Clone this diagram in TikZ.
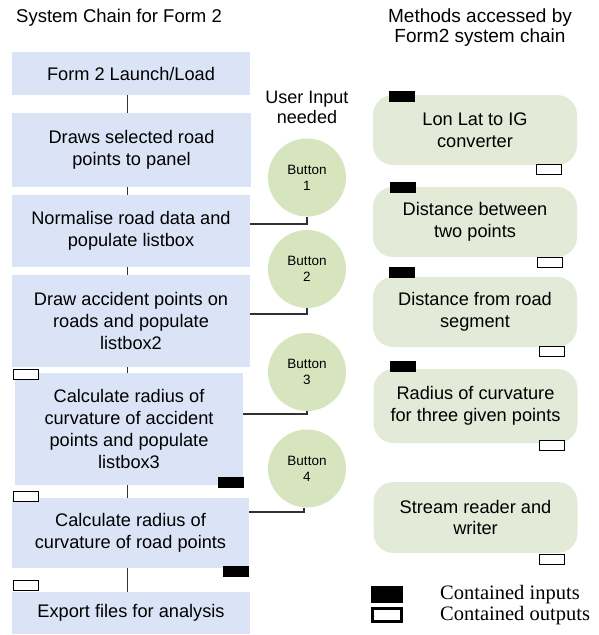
\documentclass[tikz,border=0pt]{standalone}
\usepackage{fontspec}
\setmainfont{Liberation Sans}
\newfontfamily\legendfont{Liberation Serif}
\definecolor{boxblue}{RGB}{219,228,247}
\definecolor{btngreen}{RGB}{215,229,190}
\definecolor{methgreen}{RGB}{227,234,216}
\definecolor{linegray}{RGB}{50,50,50}
\begin{document}
\begin{tikzpicture}[x=1pt,y=-1pt,
  chainbox/.style={fill=boxblue,draw=none,align=center,inner sep=0pt,
    font=\fontsize{18.2}{21.7}\selectfont},
  btn/.style={circle,fill=btngreen,draw=none,minimum size=78pt,inner sep=0pt,align=center,
    font=\fontsize{13.5}{16}\selectfont},
  methbox/.style={fill=methgreen,draw=none,rounded corners=20pt,align=center,inner sep=0pt,
    minimum width=204pt,font=\fontsize{18.2}{21.7}\selectfont},
  inbox/.style={fill=black,draw=none,inner sep=0pt,minimum width=26pt,minimum height=11pt},
  outbox/.style={fill=white,draw=black,line width=1pt,inner sep=0pt,minimum width=25pt,minimum height=10pt},
  link/.style={draw=linegray,line width=1.1pt},
  title/.style={align=center,font=\fontsize{18}{20}\selectfont,inner sep=0pt}]
\useasboundingbox (0,0) rectangle (598,635);

% titles
\node[title,anchor=west,font=\fontsize{18.5}{20}\selectfont] (t1) at (16,18) {System Chain for Form 2};
\node[title] (t2) at (307,107.5) {User Input\\needed};
\node[title,font=\fontsize{19}{20}\selectfont] (t3) at (480,28) {Methods accessed by\\Form2 system chain};

% chain boxes
\node[chainbox,minimum width=238pt,minimum height=43pt] (b1) at (131,73.5) {Form 2 Launch/Load};
\node[chainbox,minimum width=239pt,minimum height=74pt] (b2) at (131.5,150) {Draws selected road\\points to panel};
\node[chainbox,minimum width=238pt,minimum height=72pt] (b3) at (131,231) {Normalise road data and\\populate listbox};
\node[chainbox,minimum width=238pt,minimum height=92pt] (b4) at (131,321) {Draw accident points on\\roads and populate\\listbox2};
\node[chainbox,minimum width=228pt,minimum height=112pt] (b5) at (129,429) {Calculate radius of\\curvature of accident\\points and populate\\listbox3};
\node[chainbox,minimum width=237pt,minimum height=70pt] (b6) at (130.5,533) {Calculate radius of\\curvature of road points};
\node[chainbox,minimum width=238pt,minimum height=42pt] (b7) at (131,613) {Export files for analysis};

% vertical chain connectors
\coordinate (cx) at (127,0);
\draw[link,line width=0.8pt] (b1.south -| cx) -- (b2.north -| cx);
\draw[link,line width=0.8pt] (b2.south -| cx) -- (b3.north -| cx);
\draw[link,line width=0.8pt] (b3.south -| cx) -- (b4.north -| cx);
\draw[link,line width=0.8pt] (b4.south -| cx) -- (b5.north -| cx);
\draw[link,line width=0.8pt] (b5.south -| cx) -- (b6.north -| cx);
\draw[link,line width=0.8pt] (b6.south -| cx) -- (b7.north -| cx);

% buttons
\node[btn] (btn1) at (307,177.5) {Button\\1};
\node[btn] (btn2) at (307,269) {Button\\2};
\node[btn] (btn3) at (307,372) {Button\\3};
\node[btn] (btn4) at (307,468.5) {Button\\4};

\coordinate (y1) at (0,224);
\coordinate (y2) at (0,314);
\coordinate (y3) at (0,414);
\coordinate (y4) at (0,512);
\draw[link] (btn1.south) |- (b3.east |- y1);
\draw[link] (btn2.south) |- (b4.east |- y2);
\draw[link] (btn3.south) |- (b5.east |- y3);
\draw[link] ([xshift=-3pt]btn4.south) |- (b6.east |- y4);

% contained inputs / outputs on chain
\node[outbox] (o1) at (25.5,374) {};
\node[outbox] (o2) at (25.5,496) {};
\node[outbox] (o3) at (25.5,585.5) {};
\node[inbox] (i1) at (231,482) {};
\node[inbox] (i2) at (236,571.5) {};

% method boxes
\node[methbox,minimum height=70pt] (m1) at (475,130) {Lon Lat to IG\\converter};
\node[methbox,minimum height=70pt] (m2) at (475,222) {Distance between\\two points};
\node[methbox,minimum height=70pt] (m3) at (475,312) {Distance from road\\segment};
\node[methbox,minimum height=74pt] (m4) at (475.5,406) {Radius of curvature\\for three given points};
\node[methbox,minimum height=71pt] (m5) at (475.5,517.5) {Stream reader and\\writer};

\node[inbox] (mi1) at (401.5,96) {};
\node[inbox] (mi2) at (403,187) {};
\node[inbox] (mi3) at (401.5,272.5) {};
\node[inbox] (mi4) at (403,366.5) {};
\node[outbox] (mo1) at (549,169.5) {};
\node[outbox] (mo2) at (550,262) {};
\node[outbox] (mo3) at (552,351) {};
\node[outbox] (mo4) at (552,445) {};
\node[outbox] (mo5) at (552,559) {};

% legend
\node[fill=black,inner sep=0pt,minimum width=32pt,minimum height=17pt] (li) at (387,594.5) {};
\node[fill=white,draw=black,line width=2.6pt,inner sep=0pt,minimum width=29pt,minimum height=13pt] (lo) at (387,615) {};
\node[anchor=west,inner sep=0pt,font=\legendfont\fontsize{20.5}{22}\selectfont] (lt1) at (440,594.5) {Contained inputs};
\node[anchor=west,inner sep=0pt,font=\legendfont\fontsize{20.5}{22}\selectfont] (lt2) at (440,615.5) {Contained outputs};
\end{tikzpicture}
\end{document}
